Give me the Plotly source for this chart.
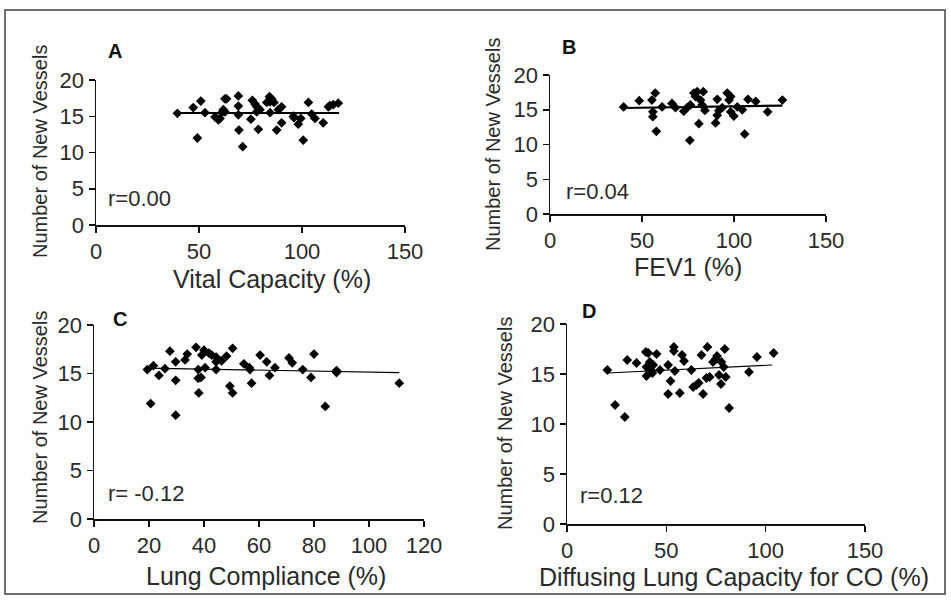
import plotly.graph_objects as go

# ---------------- data ----------------
a_x = [39.5, 47.2, 50.9, 49.2, 52.9, 57.8, 59.4, 60.2, 61.0, 61.8, 62.6, 62.6, 63.4, 69.1, 69.1, 69.1,
       69.4, 71.2, 75.2, 75.9, 77.2, 78.0, 78.0, 78.8, 79.6, 82.9, 84.2, 84.5, 85.3, 86.4, 84.5, 87.7,
       88.5, 90.1, 90.1, 95.8, 96.1, 98.2, 99.4, 100.6, 103.1, 104.7, 106.3, 110.3, 112.8, 113.6, 115.2, 117.6]
a_y = [15.4, 16.2, 17.1, 12.0, 15.5, 14.9, 14.5, 14.7, 15.5, 15.9, 17.4, 15.6, 17.4, 17.8, 16.4, 15.2,
       13.1, 10.8, 14.6, 17.2, 16.7, 16.3, 15.6, 13.2, 15.9, 16.9, 17.7, 17.0, 17.4, 16.9, 15.5, 13.1,
       15.9, 16.3, 14.1, 15.0, 14.8, 13.9, 14.7, 11.7, 16.9, 15.3, 14.7, 14.1, 16.3, 16.5, 16.6, 16.8]
a_fit_x = [39.5, 118.0]
a_fit_y = [15.45, 15.45]

b_x = [40.0, 48.5, 55.4, 57.2, 55.9, 55.9, 57.8, 60.9, 66.3, 68.2, 72.7, 74.5, 76.0, 76.3, 78.2, 79.1,
       80.0, 80.9, 81.8, 82.7, 83.3, 84.2, 90.0, 90.9, 90.9, 91.8, 93.6, 96.3, 98.2, 97.3, 98.2, 99.9,
       101.8, 104.5, 105.8, 107.6, 111.8, 118.3, 126.3]
b_y = [15.4, 16.3, 16.4, 17.4, 14.7, 14.0, 11.9, 15.4, 15.9, 15.3, 14.8, 15.3, 10.6, 15.7, 17.4, 16.9,
       17.6, 13.0, 16.4, 15.7, 17.6, 14.9, 13.1, 14.2, 16.5, 14.9, 15.3, 17.4, 16.9, 16.4, 14.7, 14.1,
       15.4, 15.0, 11.5, 16.5, 16.2, 14.7, 16.4]
b_fit_x = [40.0, 126.3]
b_fit_y = [15.25, 15.6]

c_x = [19.4, 21.6, 20.6, 23.6, 25.8, 27.6, 29.7, 29.7, 29.7, 33.1, 33.9, 37.1, 37.9, 37.9, 38.9, 38.1,
       39.2, 40.0, 40.4, 41.8, 42.8, 44.4, 44.4, 44.4, 46.4, 48.2, 50.4, 49.4, 50.4, 54.5, 56.5, 56.7,
       57.3, 60.4, 62.8, 63.8, 65.8, 70.9, 72.1, 75.9, 78.9, 80.0, 84.1, 88.2, 88.2, 111.0]
c_y = [15.4, 15.8, 11.9, 14.8, 15.5, 17.3, 16.2, 14.3, 10.7, 16.4, 17.0, 17.7, 15.4, 14.5, 14.6, 13.0,
       16.9, 17.4, 15.6, 17.1, 16.9, 16.7, 16.2, 15.4, 16.3, 16.8, 17.6, 13.7, 13.0, 16.0, 15.6, 15.4,
       14.0, 16.9, 16.2, 14.8, 15.6, 16.6, 16.1, 15.4, 14.6, 17.0, 11.6, 15.3, 15.1, 14.0]
c_fit_x = [19.4, 111.0]
c_fit_y = [15.55, 15.1]

d_x = [20.3, 24.2, 29.1, 30.3, 35.0, 39.7, 40.9, 40.0, 40.0, 41.7, 42.2, 43.0, 43.4, 45.1, 46.8, 50.9,
       50.9, 52.1, 53.8, 53.8, 54.3, 56.8, 57.9, 58.9, 62.6, 63.5, 65.1, 66.3, 67.7, 68.5, 70.7, 70.2,
       71.8, 73.5, 74.9, 75.5, 76.5, 77.5, 77.7, 78.9, 79.4, 79.9, 81.6, 91.6, 95.6, 104.0]
d_y = [15.4, 11.9, 10.7, 16.4, 16.1, 17.2, 17.1, 15.7, 14.8, 16.2, 15.4, 15.1, 15.9, 17.0, 15.4, 15.9,
       13.0, 14.3, 17.7, 17.3, 15.3, 13.1, 16.9, 16.3, 15.4, 13.7, 13.9, 14.1, 16.9, 13.0, 17.7, 14.6,
       14.7, 16.2, 16.5, 16.8, 14.9, 14.0, 16.2, 15.7, 17.5, 14.7, 11.6, 15.2, 16.7, 17.1]
d_fit_x = [20.3, 103.3]
d_fit_y = [15.1, 15.9]

x_titles = ["Vital Capacity (%)", "FEV1 (%)", "Lung Compliance (%)", "Diffusing Lung Capacity for CO (%)"]
y_title = "Number of New Vessels"
panel_letters = ["A", "B", "C", "D"]
r_labels = ["r=0.00", "r=0.04", "r= -0.12", "r=0.12"]
x_ranges = [[0, 150], [0, 150], [0, 120], [0, 150]]
x_dticks = [50, 50, 20, 50]
y_range = [0, 20]
y_dtick = 5

# ---------------- layout geometry (pixels) ----------------
W, H = 951, 601
FONT = "Liberation Sans, Arial, sans-serif"
TXT = "#2a2a2a"

# (left, right, top, bottom) of each plot area in pixels
boxes = [(96, 405, 80, 225), (550, 826, 75, 214), (94, 424, 325, 519), (567, 865, 324, 524)]
fit_widths = [2.2, 2.2, 1.2, 1.2]
letter_pos = [(115, 51), (569, 47), (120, 319), (589, 311)]
r_pos = [(106, 199), (564, 192), (106, 493), (578, 495)]
xt_pos = [(272, 279), (688, 267), (266, 576), (734, 577)]
yt_pos = [(40, 152), (493, 145), (40, 418), (505, 424)]


def fx(px):
    return px / W


def fy(py):
    return 1 - py / H


fig = go.Figure()
series = [(a_x, a_y, a_fit_x, a_fit_y), (b_x, b_y, b_fit_x, b_fit_y),
          (c_x, c_y, c_fit_x, c_fit_y), (d_x, d_y, d_fit_x, d_fit_y)]

annotations = []
for i, (sx, sy, lx, ly) in enumerate(series):
    n = "" if i == 0 else str(i + 1)
    xa, ya = "x" + n, "y" + n
    fig.add_trace(go.Scatter(x=sx, y=sy, mode="markers", xaxis=xa, yaxis=ya,
                             marker=dict(symbol="diamond", size=7.5, color="black"),
                             showlegend=False, hoverinfo="skip"))
    fig.add_trace(go.Scatter(x=lx, y=ly, mode="lines", xaxis=xa, yaxis=ya,
                             line=dict(color="black", width=fit_widths[i]),
                             showlegend=False, hoverinfo="skip"))
    l, r, t, b = boxes[i]
    axis_common = dict(showline=True, linecolor="#111", linewidth=1.5, ticks="outside",
                       ticklen=6, tickwidth=1.5, tickcolor="#111", showgrid=False,
                       zeroline=False, tickfont=dict(family=FONT, size=22, color=TXT),
                       fixedrange=True, automargin=False)
    fig.layout["xaxis" + n] = dict(domain=[fx(l), fx(r)], range=x_ranges[i], dtick=x_dticks[i],
                                   tick0=0, anchor=ya, ticklabelstandoff=0, **axis_common)
    fig.layout["yaxis" + n] = dict(domain=[fy(b), fy(t)], range=y_range, dtick=y_dtick,
                                   tick0=0, anchor=xa, **axis_common)

    annotations.append(dict(text="<b>%s</b>" % panel_letters[i], x=fx(letter_pos[i][0]),
                            y=fy(letter_pos[i][1]), xref="paper", yref="paper", showarrow=False,
                            xanchor="center", yanchor="middle",
                            font=dict(family=FONT, size=20, color="#111")))
    annotations.append(dict(text=r_labels[i], x=fx(r_pos[i][0]), y=fy(r_pos[i][1]),
                            xref="paper", yref="paper", showarrow=False,
                            xanchor="left", yanchor="middle",
                            font=dict(family=FONT, size=22, color=TXT)))
    annotations.append(dict(text=x_titles[i], x=fx(xt_pos[i][0]), y=fy(xt_pos[i][1]),
                            xref="paper", yref="paper", showarrow=False,
                            xanchor="center", yanchor="middle",
                            font=dict(family=FONT, size=25, color=TXT)))
    annotations.append(dict(text=y_title, x=fx(yt_pos[i][0]), y=fy(yt_pos[i][1]),
                            xref="paper", yref="paper", showarrow=False, textangle=-90,
                            xanchor="center", yanchor="middle",
                            font=dict(family=FONT, size=20, color=TXT)))

fig.update_layout(
    width=W, height=H, autosize=False,
    margin=dict(l=0, r=0, t=0, b=0, pad=0, autoexpand=False),
    paper_bgcolor="white", plot_bgcolor="white",
    annotations=annotations,
    shapes=[dict(type="rect", xref="paper", yref="paper", x0=fx(5), x1=fx(945),
                 y0=fy(594), y1=fy(10), line=dict(color="#444", width=1.5))],
)

fig.write_html("out.html", config={"displayModeBar": False, "staticPlot": True},
               post_script="document.body.style.margin='0';document.body.style.padding='0';"
                           "document.body.style.overflow='hidden';")
